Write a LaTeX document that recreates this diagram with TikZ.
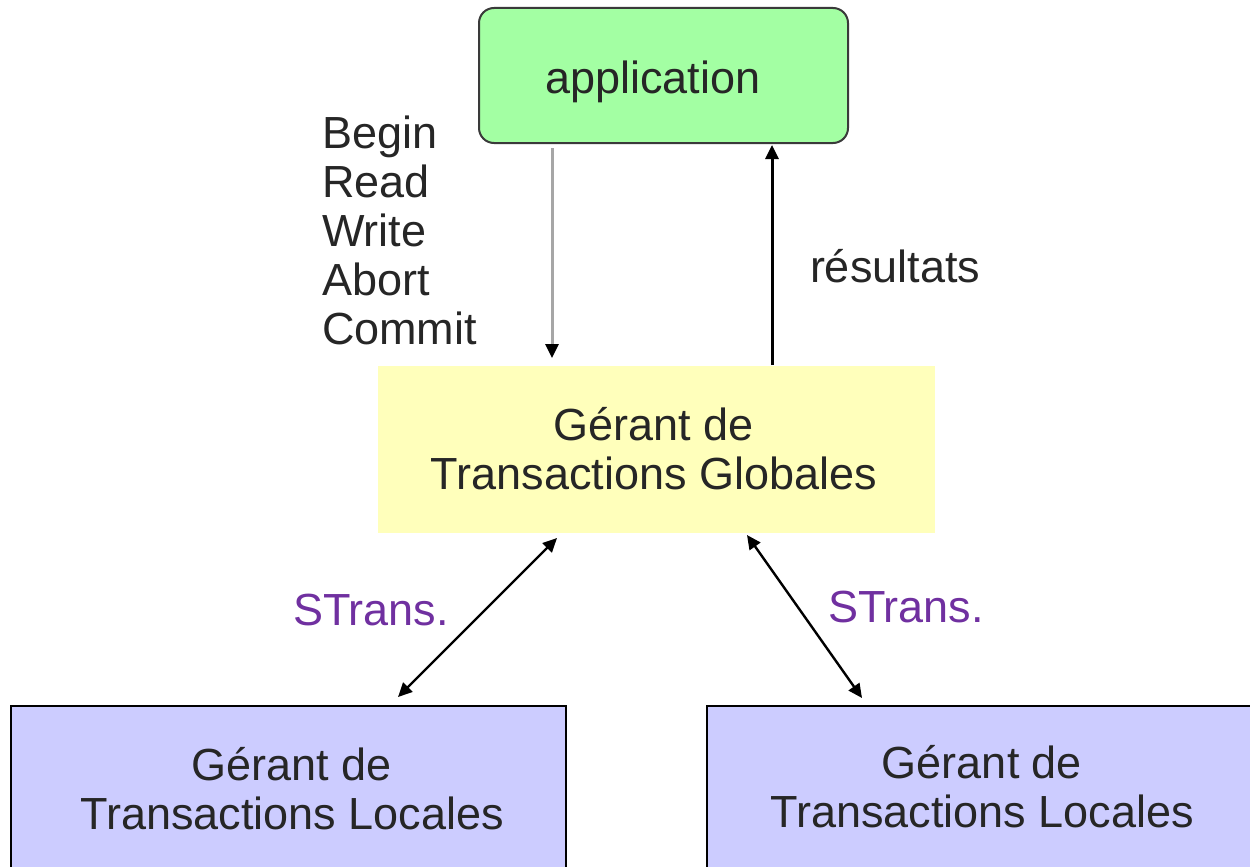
\documentclass[tikz,border=0pt]{standalone}
\usepackage{fontspec}
\setmainfont{Liberation Sans}
\usetikzlibrary{calc,arrows.meta}
\definecolor{appgreen}{HTML}{A3FFA3}
\definecolor{globyellow}{HTML}{FFFFBB}
\definecolor{localblue}{HTML}{CCCCFF}
\definecolor{inkgray}{HTML}{262626}
\definecolor{strpurple}{HTML}{7030A0}
\definecolor{callgray}{HTML}{A6A6A6}
\definecolor{framegray}{HTML}{3A3A3A}

\begin{document}
\begin{tikzpicture}[x=1pt,y=-1pt,
  box/.style={rectangle, inner sep=0pt, outer sep=0pt},
  txt/.style={inner sep=0pt, outer sep=0pt, text=inkgray,
    font=\fontsize{45}{49}\selectfont, anchor=base},
  lbl/.style={txt, anchor=base west},
  headtip/.tip={Triangle[length=14pt,width=13pt,color=black]},
  onearrow/.style={-{headtip}, line width=3pt},
  twoarrow/.style={{headtip}-{headtip}, line width=2.4pt},
]
\useasboundingbox (0,0) rectangle (1250,867);
\clip (0,0) rectangle (1250,867);

% boxes
\node[box, draw=framegray, line width=2pt, fill=appgreen, rounded corners=15pt,
      minimum width=369pt, minimum height=135pt] (app) at (663.5,75.5) {};
\node[box, fill=globyellow, minimum width=557pt, minimum height=167pt] (glob) at (656.5,449.5) {};
\node[box, draw=black, line width=2.5pt, fill=localblue,
      minimum width=555pt, minimum height=194pt] (loc1) at (288.5,803) {};
\node[box, draw=black, line width=2.5pt, fill=localblue,
      minimum width=593pt, minimum height=194pt] (loc2) at (1003.5,803) {};

% box texts
\node[txt] (appt) at (653,93) {application};
\node[txt] (globt) at (654,440) {\begin{tabular}[t]{@{}c@{}}Gérant de\\Transactions Globales\end{tabular}};
\node[txt] (loc1t) at (292,780) {\begin{tabular}[t]{@{}c@{}}Gérant de\\Transactions Locales\end{tabular}};
\node[txt] (loc2t) at (982,778) {\begin{tabular}[t]{@{}c@{}}Gérant de\\Transactions Locales\end{tabular}};

% connector labels
\node[lbl] (calls) at (322,148) {\begin{tabular}[t]{@{}l@{}}Begin\\Read\\Write\\Abort\\Commit\end{tabular}};
\node[lbl] (res) at (810,282) {résultats};
\node[lbl, text=strpurple] (st1) at (293,625) {STrans.};
\node[lbl, text=strpurple] (st2) at (828,622) {STrans.};

% connectors
\draw[onearrow, callgray] ($(app.south west)+(73,5)$) -- ($(glob.north west)+(174,-8)$);
\draw[onearrow, black] ($(glob.north west)+(394,-1)$) -- ($(app.south west)+(293,2)$);
\draw[twoarrow, black] ($(glob.south west)+(179,5)$) -- ($(loc1.north west)+(387,-9)$);
\draw[twoarrow, black] ($(glob.south west)+(369,2)$) -- ($(loc2.north west)+(155,-8)$);
\end{tikzpicture}
\end{document}
